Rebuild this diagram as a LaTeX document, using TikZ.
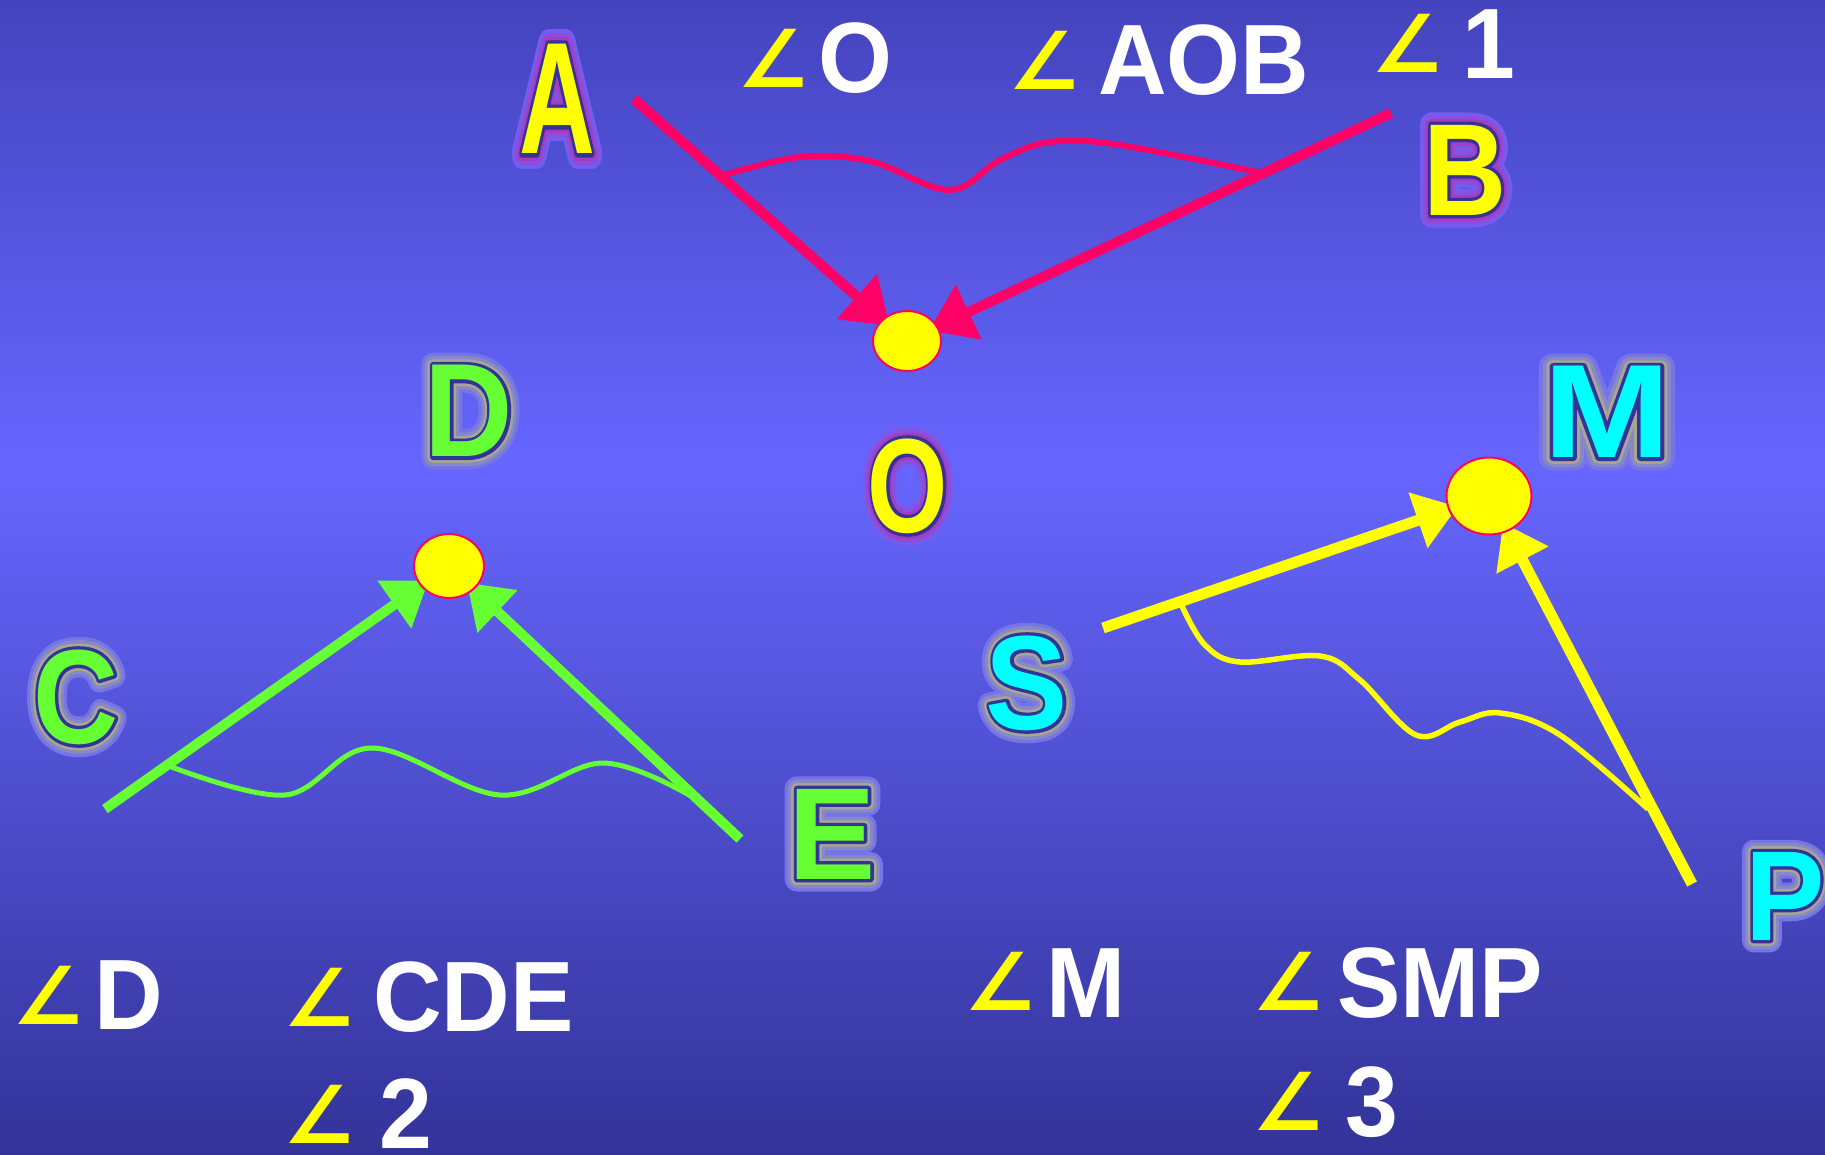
\documentclass[tikz,border=0pt]{standalone}
\usepackage{fontspec}
\usepackage{graphicx}
\usetikzlibrary{arrows.meta,shapes.geometric}
\newfontfamily\fillfont{Liberation Sans Bold}
\newfontfamily\strokefont{Liberation Sans Bold}[FakeBold=5]
\newfontfamily\glowCfont{Liberation Sans Bold}[FakeBold=9]
\newfontfamily\glowBfont{Liberation Sans Bold}[FakeBold=14]
\newfontfamily\glowAfont{Liberation Sans Bold}[FakeBold=19]
\newfontfamily\labfont{Liberation Sans Bold}[FakeStretch=0.95]
\newfontfamily\angfont{DejaVu Sans Bold}
\definecolor{bgtop}{RGB}{68,68,190}
\definecolor{bgmid}{RGB}{102,102,255}
\definecolor{bgbot}{RGB}{51,51,153}
\definecolor{pinkc}{RGB}{255,0,102}
\definecolor{greenc}{RGB}{102,255,51}
\definecolor{yel}{RGB}{255,255,0}
\definecolor{cyanc}{RGB}{0,255,255}
\definecolor{navy}{RGB}{51,51,153}
\pgfdeclarelayer{back}
\pgfdeclarelayer{mid}
\pgfsetlayers{back,mid,main}
\newcommand\BL[4][0.9]{\scalebox{#1}[1]{\setbox0\hbox{\fillfont #4}\hbox to\wd0{\hss
  \makebox[0pt]{\glowAfont\color{#3!10!bgmid}#4}%
  \makebox[0pt]{\glowBfont\color{#3!22!bgmid}#4}%
  \makebox[0pt]{\glowCfont\color{#3!42!bgmid}#4}%
  \makebox[0pt]{\strokefont\color{navy}#4}%
  \makebox[0pt]{\fillfont\color{#2}#4}\hss}}}
\begin{document}
\begin{tikzpicture}[x=1pt,y=-1pt,line join=round,
  big/.style={inner sep=0pt,font=\fontsize{#1pt}{#1pt}\selectfont},
  dot/.style={ellipse,draw=pinkc,line width=2pt,fill=yel,inner sep=0pt},
  pinkarrow/.style={draw=pinkc,line width=10pt,-{Triangle[length=44pt,width=58pt]},shorten >=-10pt},
  greenarrow/.style={draw=greenc,line width=10pt,-{Triangle[length=42pt,width=56pt]},shorten >=-10pt},
  yelarrow/.style={draw=yel,line width=11pt,-{Triangle[length=42pt,width=56pt]},shorten >=-10pt},
  lab/.style={inner sep=0pt,anchor=base west,text=white,font=\labfont\fontsize{100pt}{100pt}\selectfont},
  ang/.style={inner sep=0pt,anchor=base west,text=yel,font=\angfont\fontsize{80pt}{80pt}\selectfont}]
\useasboundingbox (0,0) rectangle (1825,1154);
\begin{pgfonlayer}{back}
\shade[top color=bgtop,bottom color=bgmid] (0,0) rectangle (1825,466);
\shade[top color=bgmid,bottom color=bgbot] (0,465) rectangle (1825,1154);
\end{pgfonlayer}
% dots
\node[dot,minimum width=68pt,minimum height=60pt] (Odot) at (907,341) {};
\node[dot,minimum width=70pt,minimum height=64pt] (Ddot) at (449,566) {};
\node[dot,minimum width=85pt,minimum height=77pt] (Mdot) at (1489,496) {};
% free ends
\coordinate (a1) at (634,99);
\coordinate (b1) at (1391,113);
\coordinate (c1) at (105,809);
\coordinate (e1) at (740,839);
\coordinate (s1) at (1103,628);
\coordinate (p1) at (1692,884);
\begin{pgfonlayer}{mid}
\draw[pinkarrow] (a1) -- (Odot);
\draw[pinkarrow] (b1) -- (Odot);
\draw[greenarrow] (c1) -- (Ddot);
\draw[greenarrow] (e1) -- (Ddot);
\draw[yelarrow] (s1) -- (Mdot);
\draw[yelarrow] (p1) -- (Mdot);
\draw[pinkc,line width=6pt] plot[smooth,tension=0.6] coordinates {(724,175) (800,157) (870,161) (949,190) (1000,160) (1050,142) (1120,145) (1266,174)};
\draw[greenc,line width=5pt] plot[smooth,tension=0.6] coordinates {(169,766) (285,795) (372,748) (500,795) (603,763) (689,795)};
\draw[yel,line width=5.5pt] plot[smooth,tension=0.6] coordinates {(1182,606) (1205,645) (1240,662) (1320,656) (1360,680) (1416,735) (1460,722) (1500,713) (1560,735) (1648,809)};
\end{pgfonlayer}
% big letters
\node[big=159] (A) at (557,99) {\BL[0.66]{yel}{pinkc}{A}};
\node[big=131] (B) at (1465,170) {\BL[0.88]{yel}{pinkc}{B}};
\node[big=134] (O) at (908,486) {\BL[0.77]{yel}{pinkc}{O}};
\node[big=133] (D) at (469,411) {\BL[0.92]{greenc}{yel}{D}};
\node[big=134] (C) at (76,697) {\BL[0.88]{greenc}{yel}{C}};
\node[big=131] (E) at (832,834) {\BL[1.0]{greenc}{yel}{E}};
\node[big=133] (M) at (1607,412) {\BL[1.15]{cyanc}{yel}{M}};
\node[big=134] (S) at (1027,683) {\BL[0.92]{cyanc}{yel}{S}};
\node[big=128] (P) at (1785,896) {\BL[0.93]{cyanc}{yel}{P}};
% labels top
\node[ang] (angO) at (737,87) {∠};
\node[lab] (tO) at (818,92) {O};
\node[ang] (angAOB) at (1008,89) {∠};
\node[lab] (tAOB) at (1098,94) {AOB};
\node[ang] (angOne) at (1371,72) {∠};
\node[lab] (tOne) at (1462,78) {1};
% labels bottom
\node[ang] (angD) at (12,1024) {∠};
\node[lab] (tD) at (94,1029) {D};
\node[ang] (angCDE) at (283,1026) {∠};
\node[lab] (tCDE) at (373,1031) {CDE};
\node[ang] (angTwo) at (283,1143) {∠};
\node[lab] (tTwo) at (379,1148) {2};
\node[ang] (angM) at (964,1010) {∠};
\node[lab] (tM) at (1046,1017) {M};
\node[ang] (angSMP) at (1252,1010) {∠};
\node[lab] (tSMP) at (1337,1017) {SMP};
\node[ang] (angThree) at (1252,1130) {∠};
\node[lab] (tThree) at (1345,1136) {3};
\end{tikzpicture}
\end{document}
